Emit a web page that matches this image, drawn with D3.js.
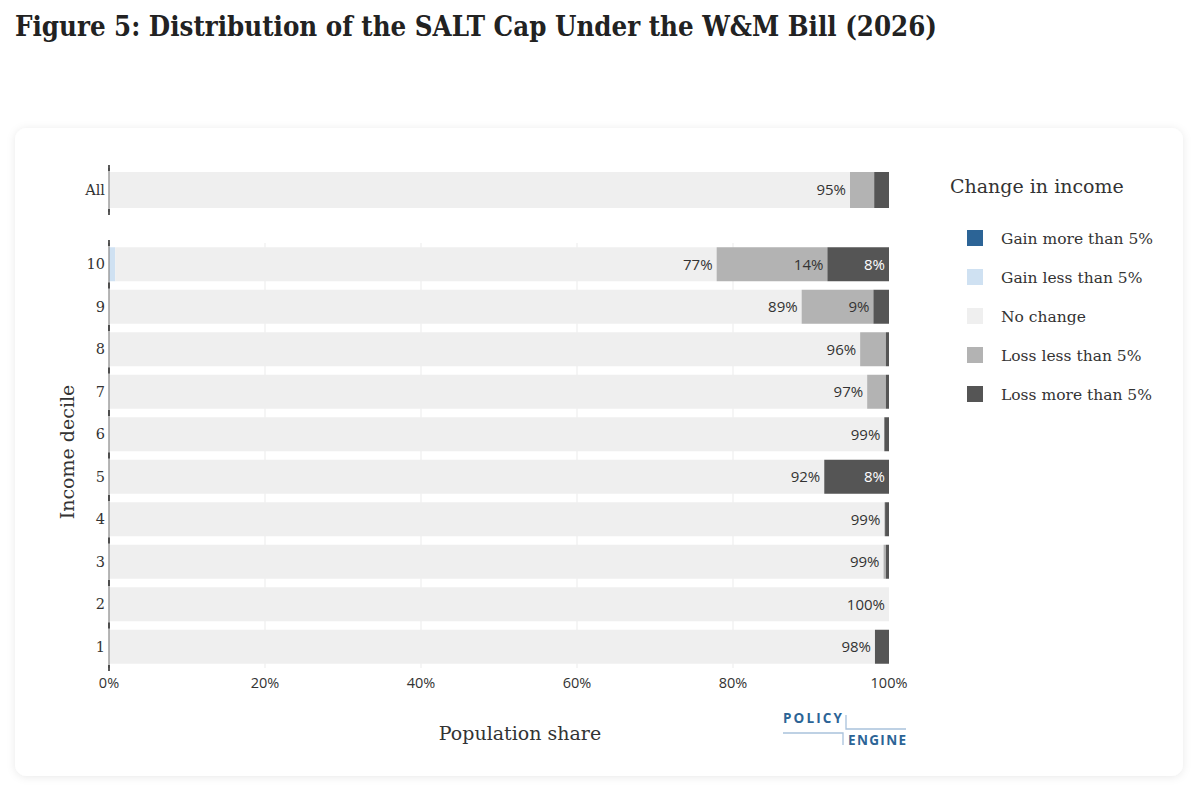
<!DOCTYPE html>
<html>
<head>
<meta charset="utf-8">
<script src="https://cdn.jsdelivr.net/npm/d3@7"></script>
<style>
  body { margin: 0; background: #fff; }
  svg { display: block; }
</style>
</head>
<body>
<div id="chart"></div>
<script>
const categories = ['All', '10', '9', '8', '7', '6', '5', '4', '3', '2', '1']
const gainMore = [0, 0, 0, 0, 0, 0, 0, 0, 0, 0, 0]
const gainLess = [0, 0.8, 0, 0, 0, 0, 0, 0, 0, 0, 0]
const noChange = [95, 77.1, 88.8, 96.3, 97.2, 99.4, 91.7, 99.4, 99.3, 100, 98.2]
const lossLess = [3.1, 14.2, 9.2, 3.3, 2.4, 0, 0, 0.1, 0.3, 0, 0]
const lossMore = [1.9, 7.9, 2.0, 0.4, 0.4, 0.6, 8.3, 0.5, 0.4, 0, 1.8]
const seriesNames = ['Gain more than 5%', 'Gain less than 5%', 'No change', 'Loss less than 5%', 'Loss more than 5%']
const xTicks = [0, 20, 40, 60, 80, 100]

const colors = ['#2c6496', '#cfe1f2', '#efefef', '#b3b3b3', '#555555']
const serif = "'DejaVu Serif', serif"
const sans = "'Open Sans', Roboto, sans-serif"

const width = 1200
const height = 789

const svg = d3
  .select('#chart')
  .append('svg')
  .attr('width', width)
  .attr('height', height)

// card with soft shadow
const defs = svg.append('defs')
const filter = defs.append('filter').attr('id', 'shadow')
  .attr('x', '-5%').attr('y', '-5%').attr('width', '110%').attr('height', '110%')
filter.append('feDropShadow')
  .attr('dx', 0).attr('dy', 1)
  .attr('stdDeviation', 4)
  .attr('flood-color', '#000')
  .attr('flood-opacity', 0.09)

svg.append('rect')
  .attr('x', 15).attr('y', 128)
  .attr('width', 1168).attr('height', 648)
  .attr('rx', 12)
  .attr('fill', '#fff')
  .attr('filter', 'url(#shadow)')

// title
svg.append('text')
  .attr('x', 15)
  .attr('y', 36)
  .attr('font-family', "'DejaVu Serif Condensed', 'DejaVu Serif', serif")
  .attr('font-weight', 700)
  .attr('font-size', 28)
  .attr('fill', '#222')
  .attr('textLength', 922)
  .attr('lengthAdjust', 'spacingAndGlyphs')
  .text('Figure 5: Distribution of the SALT Cap Under the W&M Bill (2026)')

// data table for stacking
const table = categories.map((c, i) => ({
  cat: c,
  'Gain more than 5%': gainMore[i],
  'Gain less than 5%': gainLess[i],
  'No change': noChange[i],
  'Loss less than 5%': lossLess[i],
  'Loss more than 5%': lossMore[i]
}))

const stacked = d3.stack().keys(seriesNames)(table)

const xScale = d3.scaleLinear().domain([0, 100]).range([109, 889])

const yAll = d3.scaleBand().domain(['All']).range([168, 212]).padding(0.1)
const yDecile = d3.scaleBand().domain(categories.slice(1)).range([243, 668]).paddingInner(0.2).paddingOuter(0.1)

function yPos(c) {
  return c === 'All' ? yAll(c) : yDecile(c)
}
function bandH(c) {
  return c === 'All' ? yAll.bandwidth() : yDecile.bandwidth()
}

const colorScale = d3.scaleOrdinal().domain(seriesNames).range(colors)

// gridlines in the decile panel
svg.append('g')
  .selectAll('line')
  .data(xTicks.slice(1, -1))
  .enter()
  .append('line')
  .attr('x1', d => xScale(d))
  .attr('x2', d => xScale(d))
  .attr('y1', 243)
  .attr('y2', 668)
  .attr('stroke', '#ebebeb')
  .attr('stroke-width', 1)

// bars
const layers = svg.append('g')
  .selectAll('g')
  .data(stacked)
  .enter()
  .append('g')
  .attr('fill', d => colorScale(d.key))

layers.selectAll('rect')
  .data(d => d)
  .enter()
  .append('rect')
  .attr('x', d => xScale(d[0]))
  .attr('width', d => Math.max(0, xScale(d[1]) - xScale(d[0])))
  .attr('y', d => yPos(d.data.cat))
  .attr('height', d => bandH(d.data.cat))

// labels inside segments
const labels = []
stacked.forEach(layer => {
  layer.forEach(d => {
    const v = d[1] - d[0]
    if (v >= 5) {
      labels.push({ key: layer.key, cat: d.data.cat, end: d[1], v: v })
    }
  })
})

svg.append('g')
  .selectAll('text')
  .data(labels)
  .enter()
  .append('text')
  .attr('x', d => xScale(d.end) - 4)
  .attr('y', d => yPos(d.cat) + bandH(d.cat) / 2)
  .attr('dy', '0.36em')
  .attr('text-anchor', 'end')
  .attr('font-family', sans)
  .attr('font-size', 15)
  .attr('fill', d => (d.key === 'Loss more than 5%' || d.key === 'Gain more than 5%') ? '#fff' : '#333')
  .text(d => Math.round(d.v) + '%')

// y axes lines
const axisG = svg.append('g')
axisG.append('line')
  .attr('x1', 109).attr('x2', 109)
  .attr('y1', 168).attr('y2', 212)
  .attr('stroke', '#888').attr('stroke-width', 1.2)
axisG.append('line')
  .attr('x1', 109).attr('x2', 109)
  .attr('y1', 243).attr('y2', 668)
  .attr('stroke', '#888').attr('stroke-width', 1.2)

// dark marks at band boundaries
const boundaries = [168, 212].concat(categories.slice(1).map(c => yDecile(c) - yDecile.step() * yDecile.paddingInner() / 2))
boundaries.push(668)
axisG.selectAll('.mark')
  .data(boundaries)
  .enter()
  .append('line')
  .attr('class', 'mark')
  .attr('x1', 109).attr('x2', 109)
  .attr('y1', d => d - 3).attr('y2', d => d + 3)
  .attr('stroke', '#333').attr('stroke-width', 1.6)

// y tick labels
svg.append('g')
  .selectAll('text')
  .data(categories)
  .enter()
  .append('text')
  .attr('x', 105)
  .attr('y', d => yPos(d) + bandH(d) / 2)
  .attr('dy', '0.36em')
  .attr('text-anchor', 'end')
  .attr('font-family', serif)
  .attr('font-size', 14.5)
  .attr('fill', '#333')
  .text(d => d)

// x tick labels
svg.append('g')
  .selectAll('text')
  .data(xTicks)
  .enter()
  .append('text')
  .attr('x', d => xScale(d))
  .attr('y', 683)
  .attr('dy', '0.36em')
  .attr('text-anchor', 'middle')
  .attr('font-family', sans)
  .attr('font-size', 14.5)
  .attr('fill', '#333')
  .text(d => d + '%')

// axis titles
svg.append('text')
  .attr('x', 520)
  .attr('y', 733)
  .attr('dy', '0.36em')
  .attr('text-anchor', 'middle')
  .attr('font-family', serif)
  .attr('font-size', 19)
  .attr('fill', '#333')
  .text('Population share')

svg.append('text')
  .attr('transform', 'translate(67,452) rotate(-90)')
  .attr('dy', '0.36em')
  .attr('text-anchor', 'middle')
  .attr('font-family', serif)
  .attr('font-size', 19)
  .attr('fill', '#333')
  .text('Income decile')

// legend
const legend = svg.append('g').attr('transform', 'translate(950,0)')
legend.append('text')
  .attr('x', 0).attr('y', 186)
  .attr('dy', '0.36em')
  .attr('font-family', serif)
  .attr('font-size', 19)
  .attr('fill', '#333')
  .text('Change in income')

const items = legend.selectAll('.item')
  .data(seriesNames)
  .enter()
  .append('g')
  .attr('class', 'item')
  .attr('transform', (d, i) => 'translate(0,' + (238 + i * 39) + ')')

items.append('rect')
  .attr('x', 17).attr('y', -8)
  .attr('width', 16).attr('height', 16)
  .attr('fill', d => colorScale(d))

items.append('text')
  .attr('x', 51).attr('y', 0)
  .attr('dy', '0.36em')
  .attr('font-family', serif)
  .attr('font-size', 15.5)
  .attr('fill', '#333')
  .text(d => d)

// PolicyEngine logo
const logo = svg.append('g')
logo.append('text')
  .attr('x', 783).attr('y', 723)
  .attr('font-family', sans)
  .attr('font-weight', 700)
  .attr('font-size', 13.5)
  .attr('textLength', 59)
  .attr('lengthAdjust', 'spacing')
  .attr('fill', '#2c6496')
  .text('POLICY')
logo.append('text')
  .attr('x', 848).attr('y', 745)
  .attr('font-family', sans)
  .attr('font-weight', 700)
  .attr('font-size', 13.5)
  .attr('textLength', 58)
  .attr('lengthAdjust', 'spacing')
  .attr('fill', '#2c6496')
  .text('ENGINE')
logo.append('path')
  .attr('d', 'M846,715 V729 H906 M783,733 H843 V745')
  .attr('fill', 'none')
  .attr('stroke', '#a9c2dc')
  .attr('stroke-width', 1.3)
</script>
</body>
</html>
